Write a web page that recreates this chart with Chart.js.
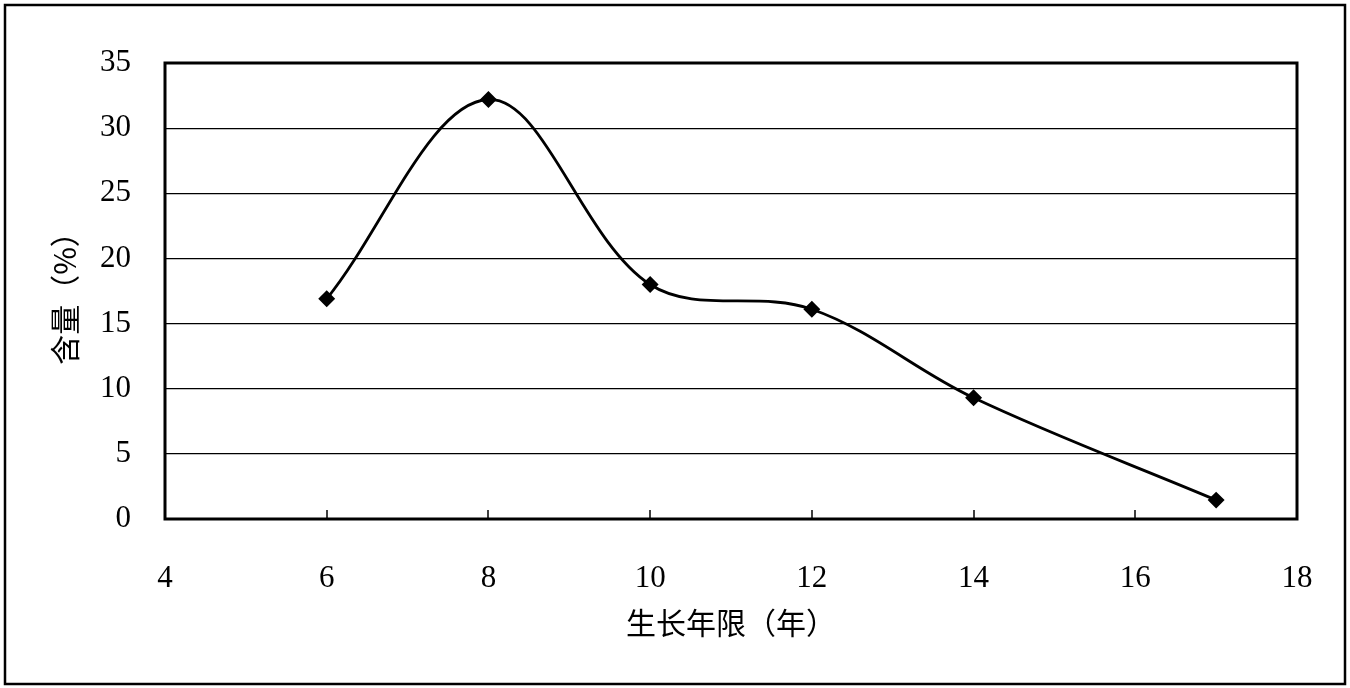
<!DOCTYPE html>
<html>
<head>
<meta charset="utf-8">
<script src="https://cdn.jsdelivr.net/npm/chart.js@4.4.0/dist/chart.umd.min.js"></script>
<style>
  html, body { margin: 0; padding: 0; background: #fff; }
  #wrap { width: 1350px; height: 688px; }
</style>
</head>
<body>
<div id="wrap"><canvas id="contentChart"></canvas></div>
<script>
// Data
const years = [6, 8, 10, 12, 14, 17];
const content = [16.9, 32.2, 18.0, 16.1, 9.3, 1.45];
const xTicks = [4, 6, 8, 10, 12, 14, 16, 18];
const yTicks = [0, 5, 10, 15, 20, 25, 30, 35];

const xTitle = '生长年限（年）';
const yTitle = '含量（%）';

const tickFont = { family: '"Liberation Serif", "DejaVu Serif", serif', size: 31 };
const titleFont = { family: '"Noto Sans CJK SC", sans-serif', size: 30 };

// Outer border, plot frame and inward x ticks
const framePlugin = {
    id: 'frame',
    beforeDraw(chart) {
        const ctx = chart.ctx;
        ctx.save();
        ctx.fillStyle = '#fff';
        ctx.fillRect(0, 0, chart.width, chart.height);
        ctx.restore();
    },
    afterDraw(chart) {
        const ctx = chart.ctx;
        const a = chart.chartArea;
        const xs = chart.scales.x;
        ctx.save();
        ctx.strokeStyle = '#000';
        ctx.lineWidth = 2.5;
        ctx.strokeRect(5, 5, chart.width - 10, chart.height - 9);
        ctx.lineWidth = 3;
        ctx.strokeRect(a.left, a.top, a.right - a.left, a.bottom - a.top);
        ctx.lineWidth = 1.5;
        xs.ticks.forEach(t => {
            const px = Math.round(xs.getPixelForValue(t.value));
            ctx.beginPath();
            ctx.moveTo(px, a.bottom);
            ctx.lineTo(px, a.bottom - 9);
            ctx.stroke();
        });
        ctx.restore();
    }
};

const ctx = document.getElementById('contentChart').getContext('2d');
const contentChart = new Chart(ctx, {
    type: 'scatter',
    data: {
        datasets: [{
            data: years.map((x, i) => ({ x: x, y: content[i] })),
            showLine: true,
            borderColor: '#000',
            backgroundColor: '#000',
            borderWidth: 2.8,
            tension: 0.35,
            pointStyle: 'rectRot',
            pointRadius: 6.5,
            pointBackgroundColor: '#000',
            pointBorderColor: '#000'
        }]
    },
    options: {
        responsive: true,
        maintainAspectRatio: false,
        animation: false,
        layout: {
            padding: { left: 0, top: 63, right: 53, bottom: 0 }
        },
        plugins: {
            legend: { display: false },
            tooltip: { enabled: false }
        },
        scales: {
            x: {
                type: 'linear',
                min: 4,
                max: 18,
                afterBuildTicks: function(scale) {
                    scale.ticks = xTicks.map(v => ({ value: v }));
                },
                afterFit: function(scale) {
                    scale.height = 169;
                },
                ticks: {
                    color: '#000',
                    font: tickFont,
                    padding: 30,
                    maxRotation: 0
                },
                grid: {
                    display: true,
                    drawOnChartArea: false,
                    drawTicks: true,
                    tickLength: 11,
                    color: 'rgba(0,0,0,0)'
                },
                border: { display: false },
                title: {
                    display: true,
                    text: xTitle,
                    color: '#000',
                    font: titleFont,
                    padding: { top: 0, bottom: 47 }
                }
            },
            y: {
                min: 0,
                max: 35,
                afterBuildTicks: function(scale) {
                    scale.ticks = yTicks.map(v => ({ value: v }));
                },
                afterFit: function(scale) {
                    scale.width = 165;
                },
                ticks: {
                    color: '#000',
                    font: tickFont,
                    padding: 34
                },
                grid: {
                    color: '#000',
                    lineWidth: 1.2,
                    drawTicks: false
                },
                border: { display: false },
                title: {
                    display: true,
                    text: yTitle,
                    color: '#000',
                    font: titleFont,
                    padding: { top: 47, bottom: 0 }
                }
            }
        }
    },
    plugins: [framePlugin]
});
</script>
</body>
</html>
